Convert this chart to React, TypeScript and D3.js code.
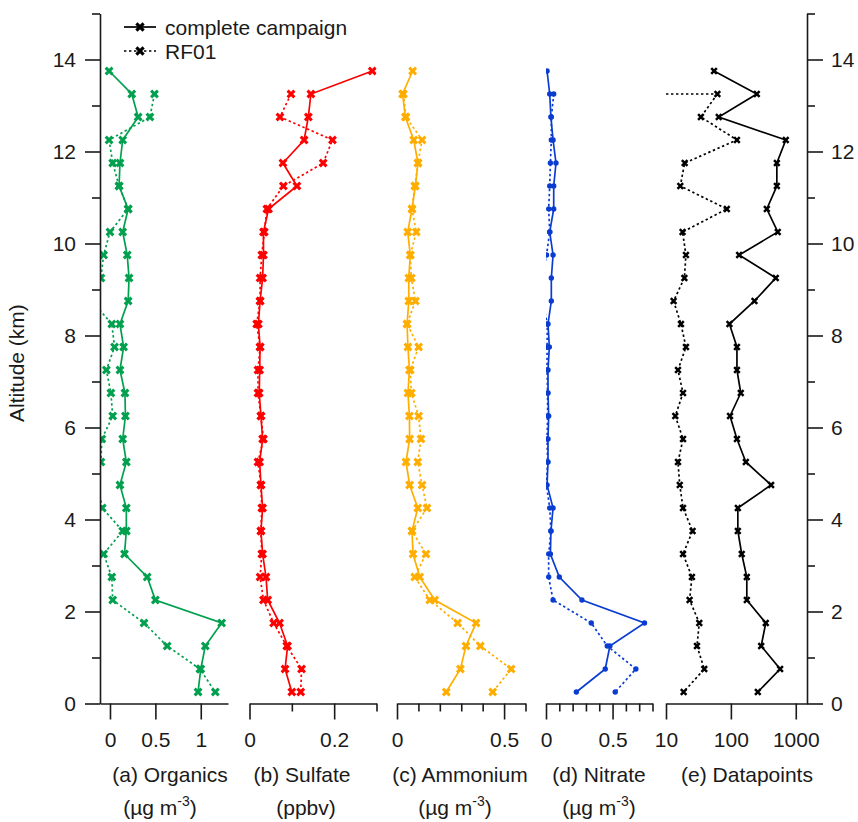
import React, { useEffect, useRef } from 'react';
import * as d3 from 'd3';

// altitude bins (km), top to bottom
const altitudes = [13.75, 13.25, 12.75, 12.25, 11.75, 11.25, 10.75, 10.25, 9.75, 9.25, 8.75, 8.25, 7.75, 7.25, 6.75, 6.25, 5.75, 5.25, 4.75, 4.25, 3.75, 3.25, 2.75, 2.25, 1.75, 1.25, 0.75, 0.25];

const organicsAll = [-0.01, 0.24, 0.31, 0.14, 0.11, 0.1, 0.2, 0.14, 0.19, 0.21, 0.2, 0.11, 0.15, 0.11, 0.165, 0.17, 0.14, 0.18, 0.11, 0.18, 0.18, 0.16, 0.41, 0.5, 1.23, 1.05, 1.0, 0.97];
const organicsRF01 = [null, 0.49, 0.44, -0.01, 0.03, 0.1, 0.2, 0.0, -0.07, -0.1, -0.2, 0.02, 0.05, -0.04, 0.01, 0.03, -0.09, -0.1, -0.13, -0.085, 0.14, -0.07, 0.02, 0.03, 0.375, 0.63, 0.99, 1.16];

const sulfateAll = [0.29, 0.145, 0.139, 0.129, 0.079, 0.112, 0.045, 0.033, 0.033, 0.031, 0.025, 0.021, 0.025, 0.024, 0.023, 0.027, 0.031, 0.024, 0.027, 0.031, 0.027, 0.031, 0.039, 0.043, 0.071, 0.09, 0.084, 0.1];
const sulfateRF01 = [null, 0.098, 0.072, 0.196, 0.174, 0.08, 0.041, 0.035, 0.029, 0.025, 0.025, 0.017, 0.025, 0.02, 0.02, 0.027, 0.033, 0.02, 0.027, 0.029, 0.027, 0.029, 0.025, 0.033, 0.057, 0.088, 0.123, 0.121];

const ammoniumAll = [0.073, 0.026, 0.039, 0.078, 0.098, 0.086, 0.07, 0.05, 0.062, 0.055, 0.055, 0.047, 0.051, 0.058, 0.051, 0.058, 0.059, 0.042, 0.059, 0.097, 0.07, 0.075, 0.106, 0.176, 0.369, 0.322, 0.296, 0.23];
const ammoniumRF01 = [null, 0.03, 0.042, 0.117, 0.098, 0.083, 0.07, 0.09, 0.062, 0.067, 0.086, 0.047, 0.101, 0.062, 0.067, 0.101, 0.112, 0.097, 0.117, 0.14, 0.07, 0.135, 0.083, 0.153, 0.283, 0.389, 0.533, 0.447];

const nitrateAll = [0.008, 0.028, 0.037, 0.053, 0.075, 0.058, 0.058, 0.028, 0.053, 0.04, 0.04, 0.015, 0.025, 0.015, 0.015, 0.02, 0.015, 0.015, 0.008, 0.053, 0.037, 0.033, 0.1, 0.27, 0.74, 0.48, 0.445, 0.228];
const nitrateRF01 = [null, 0.058, 0.04, 0.04, 0.033, 0.028, 0.02, 0.028, 0.004, -0.03, -0.025, 0.01, 0.008, 0.008, 0.012, 0.012, 0.008, 0.012, 0.003, 0.028, 0.037, 0.02, 0.02, 0.053, 0.34, 0.46, 0.675, 0.52];

const datapointsAll = [55, 251, 65, 702, 511, 511, 358, 528, 134, 492, 231, 95, 124, 124, 142, 97, 124, 170, 417, 128, 128, 147, 176, 176, 345, 293, 574, 260];
const datapointsRF01 = [null, 62, 34.5, 124, 19.4, 16.6, 86.6, 18, 20.3, 19.2, 13.1, 17, 20.3, 15.3, 18.3, 13.9, 18.3, 15.3, 16.3, 18.3, 25.7, 18.3, 25.1, 23.1, 32.6, 30, 38.9, 18.7];

// tick values
const altMajorTicks = [0, 2, 4, 6, 8, 10, 12, 14];
const altMinorTicks = [1, 3, 5, 7, 9, 11, 13, 15];
const organicsTicks = [0, 0.5, 1];
const sulfateTicks = [0, 0.2];
const sulfateMinor = [0.1, 0.3];
const ammoniumTicks = [0, 0.5];
const ammoniumMinor = [0.1, 0.2, 0.3, 0.4, 0.6];
const nitrateTicks = [0, 0.5];
const nitrateMinor = [0.1, 0.2, 0.3, 0.4, 0.6, 0.7, 0.8];
const datapointsTicks = [10, 100, 1000];

const legendLabels = ['complete campaign', 'RF01'];

const FONT = '"Liberation Sans", Arial, sans-serif';
const INK = '#1a1a1a';
const FS = '21px';

const App = () => {
  const ref = useRef(null);

  useEffect(() => {
    drawChart();
  }, []); // eslint-disable-line react-hooks/exhaustive-deps

  const drawChart = () => {
    const svg = d3.select(ref.current);
    svg.selectAll('*').remove();

    const y = d3.scaleLinear().domain([0, 15]).range([703.5, 13.5]);
    const yBottom = y(0);

    const panels = [
      {
        id: 'a', all: organicsAll, rf: organicsRF01, color: '#00a04e', marker: 'x',
        x: d3.scaleLinear().domain([-0.11, 1.3]).range([100, 228]),
        major: organicsTicks, minor: [], fmt: (d) => String(d),
        title: '(a) Organics', titleX: 170, unitX: 160, unit: 'ug',
      },
      {
        id: 'b', all: sulfateAll, rf: sulfateRF01, color: '#ff0000', marker: 'x',
        x: d3.scaleLinear().domain([0, 0.3]).range([249.5, 376.5]),
        major: sulfateTicks, minor: sulfateMinor, fmt: (d) => String(d),
        title: '(b) Sulfate', titleX: 302, unitX: 306, unit: 'ppbv',
      },
      {
        id: 'c', all: ammoniumAll, rf: ammoniumRF01, color: '#ffae00', marker: 'x',
        x: d3.scaleLinear().domain([0, 0.6]).range([397, 525.5]),
        major: ammoniumTicks, minor: ammoniumMinor, fmt: (d) => String(d),
        title: '(c) Ammonium', titleX: 460, unitX: 455, unit: 'ug',
      },
      {
        id: 'd', all: nitrateAll, rf: nitrateRF01, color: '#0a3cd2', marker: 'dot',
        x: d3.scaleLinear().domain([0, 0.8]).range([546, 652.5]),
        major: nitrateTicks, minor: nitrateMinor, fmt: (d) => String(d),
        title: '(d) Nitrate', titleX: 599, unitX: 599, unit: 'ug',
      },
      {
        id: 'e', all: datapointsAll, rf: datapointsRF01, color: '#000000', marker: 'x',
        x: d3.scaleLog().domain([10, 1490]).range([666, 807]),
        major: datapointsTicks, minor: [], fmt: (d) => String(d),
        title: '(e) Datapoints', titleX: 747, unitX: null, unit: null, leadIn: true,
      },
    ];

    const defs = svg.append('defs');
    const xMarker = (s) => `M${-s},${-s}L${s},${s}M${-s},${s}L${s},${-s}`;

    panels.forEach((p) => {
      const [r0, r1] = p.x.range();
      const [d0, d1] = p.x.domain();
      defs
        .append('clipPath')
        .attr('id', `clip-${p.id}`)
        .append('rect')
        .attr('x', r0)
        .attr('y', 0)
        .attr('width', r1 - r0)
        .attr('height', yBottom);

      const g = svg.append('g');
      const plot = g.append('g').attr('clip-path', `url(#clip-${p.id})`);

      const series = [
        { vals: p.all, dash: null },
        { vals: p.rf, dash: '2.4,2.6' },
      ];

      series.forEach((s) => {
        const pts = altitudes.map((a, i) => ({ a, v: s.vals[i] }));
        const line = d3
          .line()
          .defined((d) => d.v !== null && d.v !== undefined)
          .x((d) => p.x(d.v))
          .y((d) => y(d.a));

        plot
          .append('path')
          .datum(pts)
          .attr('d', line)
          .attr('fill', 'none')
          .attr('stroke', p.color)
          .attr('stroke-width', 1.7)
          .attr('stroke-dasharray', s.dash);

        // lead-in from the axis edge for the first RF01 datapoint
        if (p.leadIn && s.dash) {
          const first = pts.find((d) => d.v !== null);
          plot
            .append('line')
            .attr('x1', r0)
            .attr('x2', p.x(first.v))
            .attr('y1', y(first.a))
            .attr('y2', y(first.a))
            .attr('stroke', p.color)
            .attr('stroke-width', 1.7)
            .attr('stroke-dasharray', s.dash);
        }

        const visible = pts.filter(
          (d) => d.v !== null && d.v !== undefined && d.v >= d0 && d.v <= d1
        );
        if (p.marker === 'dot') {
          plot
            .selectAll(null)
            .data(visible)
            .enter()
            .append('circle')
            .attr('cx', (d) => p.x(d.v))
            .attr('cy', (d) => y(d.a))
            .attr('r', 2.7)
            .attr('fill', p.color);
        } else {
          plot
            .selectAll(null)
            .data(visible)
            .enter()
            .append('path')
            .attr('transform', (d) => `translate(${p.x(d.v)},${y(d.a)})`)
            .attr('d', xMarker(p.id === 'e' ? 2.8 : 3.4))
            .attr('stroke', p.color)
            .attr('stroke-width', p.id === 'e' ? 2.5 : 3)
            .attr('fill', 'none');
        }
      });

      // bottom axis: major ticks with labels
      const axMajor = g
        .append('g')
        .attr('transform', `translate(0,${yBottom})`)
        .call(
          d3
            .axisBottom(p.x)
            .tickValues(p.major)
            .tickFormat(p.fmt)
            .tickSize(16)
            .tickSizeOuter(0)
            .tickPadding(13)
        );
      axMajor.select('.domain').attr('stroke', INK).attr('stroke-width', 1.6);
      axMajor.selectAll('.tick line').attr('stroke', INK).attr('stroke-width', 1.6);
      axMajor
        .selectAll('.tick text')
        .attr('fill', INK)
        .style('font-family', FONT)
        .style('font-size', FS);

      if (p.minor.length) {
        const axMinor = g
          .append('g')
          .attr('transform', `translate(0,${yBottom})`)
          .call(d3.axisBottom(p.x).tickValues(p.minor).tickFormat('').tickSize(8).tickSizeOuter(0));
        axMinor.select('.domain').remove();
        axMinor.selectAll('.tick line').attr('stroke', INK).attr('stroke-width', 1.6);
      }

      g.append('text')
        .attr('x', p.titleX)
        .attr('y', 782)
        .attr('text-anchor', 'middle')
        .attr('fill', INK)
        .style('font-family', FONT)
        .style('font-size', FS)
        .text(p.title);

      if (p.unit) {
        const u = g
          .append('text')
          .attr('x', p.unitX)
          .attr('y', 815)
          .attr('text-anchor', 'middle')
          .attr('fill', INK)
          .style('font-family', FONT)
          .style('font-size', FS);
        if (p.unit === 'ppbv') {
          u.text('(ppbv)');
        } else {
          u.append('tspan').text('(µg m');
          u.append('tspan').attr('dy', -9).style('font-size', '14px').text('-3');
          u.append('tspan').attr('dy', 9).text(')');
        }
      }
    });

    // left and right altitude axes
    const leftX = panels[0].x.range()[0];
    const rightX = panels[4].x.range()[1];

    const styleAxis = (ax) => {
      ax.select('.domain').attr('stroke', INK).attr('stroke-width', 1.6);
      ax.selectAll('.tick line').attr('stroke', INK).attr('stroke-width', 1.6);
      ax.selectAll('.tick text')
        .attr('fill', INK)
        .style('font-family', FONT)
        .style('font-size', FS);
    };

    const left = svg
      .append('g')
      .attr('transform', `translate(${leftX},0)`)
      .call(d3.axisLeft(y).tickValues(altMajorTicks).tickSize(15).tickSizeOuter(0).tickPadding(9));
    styleAxis(left);
    const leftMinor = svg
      .append('g')
      .attr('transform', `translate(${leftX},0)`)
      .call(d3.axisLeft(y).tickValues(altMinorTicks).tickFormat('').tickSize(8).tickSizeOuter(0));
    leftMinor.select('.domain').remove();
    styleAxis(leftMinor);

    const right = svg
      .append('g')
      .attr('transform', `translate(${rightX},0)`)
      .call(d3.axisRight(y).tickValues(altMajorTicks).tickSize(16).tickSizeOuter(0).tickPadding(8));
    styleAxis(right);
    const rightMinor = svg
      .append('g')
      .attr('transform', `translate(${rightX},0)`)
      .call(d3.axisRight(y).tickValues(altMinorTicks).tickFormat('').tickSize(8).tickSizeOuter(0));
    rightMinor.select('.domain').remove();
    styleAxis(rightMinor);

    svg
      .append('text')
      .attr('transform', `translate(24,${y(7.4)}) rotate(-90)`)
      .attr('text-anchor', 'middle')
      .attr('fill', INK)
      .style('font-family', FONT)
      .style('font-size', FS)
      .text('Altitude (km)');

    // legend
    const legend = svg.append('g').attr('transform', 'translate(124,27)');
    legendLabels.forEach((label, i) => {
      const row = legend.append('g').attr('transform', `translate(0,${i * 24})`);
      row
        .append('line')
        .attr('x1', 0)
        .attr('x2', 32)
        .attr('stroke', '#000')
        .attr('stroke-width', 1.7)
        .attr('stroke-dasharray', i === 0 ? null : '2.4,2.6');
      row
        .append('path')
        .attr('transform', 'translate(16,0)')
        .attr('d', xMarker(3.6))
        .attr('stroke', '#000')
        .attr('stroke-width', 3.2);
      row
        .append('text')
        .attr('x', 41)
        .attr('y', 7.5)
        .attr('fill', INK)
        .style('font-family', FONT)
        .style('font-size', FS)
        .text(label);
    });
  };

  return (
    <div>
      <svg
        ref={ref}
        width="858"
        height="822"
        style={{ position: 'absolute', left: 0, top: 0, background: '#fff' }}
      ></svg>
    </div>
  );
};

export default App;
